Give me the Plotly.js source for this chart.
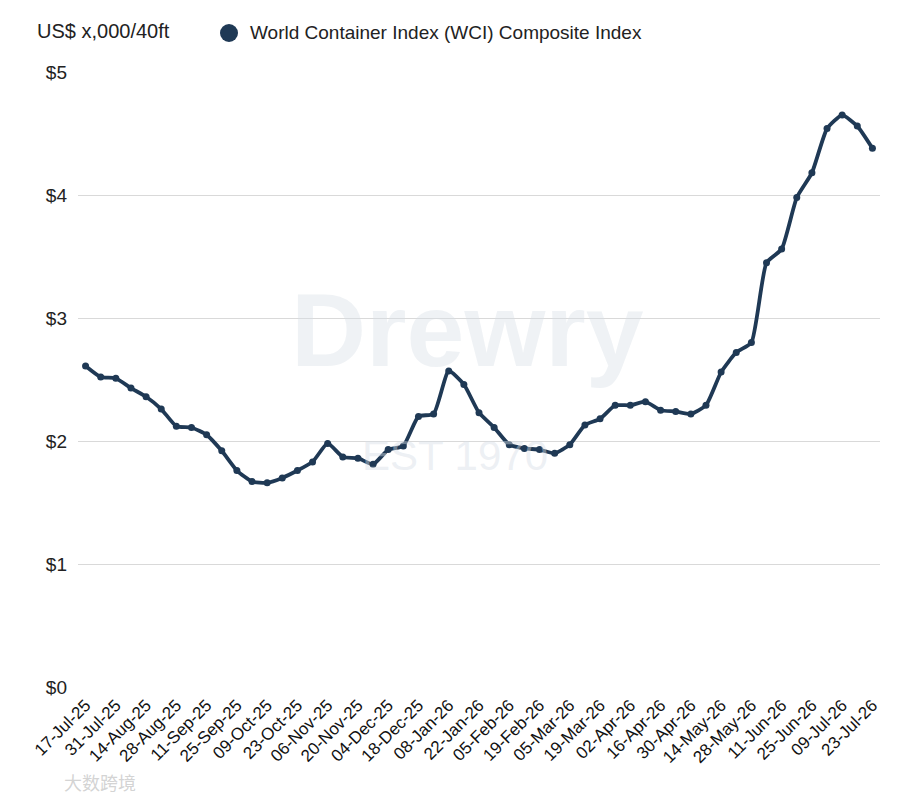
<!DOCTYPE html>
<html>
<head>
<meta charset="utf-8">
<script src="https://cdn.plot.ly/plotly-3.0.1.min.js"></script>
<style>html,body{margin:0;padding:0;background:#fff;}#chart{width:900px;height:797px;}</style>
</head>
<body>
<div id="chart"></div>
<script>
const dates = ["17-Jul-25","24-Jul-25","31-Jul-25","07-Aug-25","14-Aug-25","21-Aug-25","28-Aug-25","04-Sep-25","11-Sep-25","18-Sep-25","25-Sep-25","02-Oct-25","09-Oct-25","16-Oct-25","23-Oct-25","30-Oct-25","06-Nov-25","13-Nov-25","20-Nov-25","27-Nov-25","04-Dec-25","11-Dec-25","18-Dec-25","25-Dec-25","08-Jan-26","15-Jan-26","22-Jan-26","29-Jan-26","05-Feb-26","12-Feb-26","19-Feb-26","26-Feb-26","05-Mar-26","12-Mar-26","19-Mar-26","26-Mar-26","02-Apr-26","09-Apr-26","16-Apr-26","23-Apr-26","30-Apr-26","07-May-26","14-May-26","21-May-26","28-May-26","04-Jun-26","11-Jun-26","18-Jun-26","25-Jun-26","02-Jul-26","09-Jul-26","16-Jul-26","23-Jul-26"];
const wciValues = [2.61,2.52,2.51,2.43,2.36,2.26,2.12,2.11,2.05,1.92,1.76,1.67,1.66,1.70,1.76,1.83,1.98,1.87,1.86,1.81,1.93,1.96,2.20,2.22,2.57,2.46,2.23,2.11,1.97,1.94,1.93,1.90,1.97,2.13,2.18,2.29,2.29,2.32,2.25,2.24,2.22,2.29,2.56,2.72,2.80,3.45,3.56,3.98,4.18,4.54,4.65,4.56,4.38];
const tickLabels = dates.filter((d,i)=>i%2===0);
const yTickVals = [0,1,2,3,4,5];
const yTickText = ["$0","$1","$2","$3","$4","$5"];
const seriesName = "World Container Index (WCI) Composite Index";
const unitLabel = "US$ x,000/40ft";

const navy = "#1f3955";
const trace = {
  x: dates, y: wciValues, type: "scatter", mode: "lines+markers",
  name: seriesName,
  line: {color: navy, width: 3.8, shape: "spline", smoothing: 0.5},
  marker: {color: navy, size: 7},
  showlegend: false,
  cliponaxis: false
};
const layout = {
  width: 900, height: 797,
  margin: {l: 78, r: 20, t: 72, b: 110},
  paper_bgcolor: "#fff", plot_bgcolor: "#fff",
  font: {family: "Liberation Sans, Arial, sans-serif", color: "#222"},
  showlegend: false,
  xaxis: {
    type: "category", range: [-0.5, 52.5],
    tickmode: "array", tickvals: tickLabels, ticktext: tickLabels,
    tickangle: -45, tickfont: {size: 17, color: "#111"}, ticklabelstandoff: 4,
    showgrid: false, zeroline: false, showline: false, ticks: "", fixedrange: true
  },
  yaxis: {
    range: [0, 5], tickvals: yTickVals, ticktext: yTickText,
    tickfont: {size: 19, color: "#222"}, showgrid: true, gridcolor: "#d9d9d9", gridwidth: 1,
    zeroline: false, showline: false, ticks: "", ticklabelstandoff: 10
  },
  shapes: [
    {type: "circle", xref: "paper", yref: "paper", xsizemode: "pixel", ysizemode: "pixel",
     xanchor: (229-78)/802, yanchor: (687-33)/615, x0: -9, x1: 9, y0: -9, y1: 9,
     fillcolor: navy, line: {width: 0}}
  ],
  annotations: [
    {text: unitLabel, xref: "paper", yref: "paper", x: (35-78)/802, y: (687-31)/615, xanchor: "left", yanchor: "middle",
     showarrow: false, font: {size: 20, color: "#222"}},
    {text: seriesName, xref: "paper", yref: "paper", x: (248-78)/802, y: (687-33)/615, xanchor: "left", yanchor: "middle",
     showarrow: false, font: {size: 19, color: "#222"}},
    {text: "<b>Drewry</b>", xref: "paper", yref: "paper", x: 0.486, y: 0.58, xanchor: "center", yanchor: "middle",
     showarrow: false, font: {size: 104, color: "rgba(215,222,230,0.4)", family: "Liberation Sans, Arial"}},
    {text: "EST 1970", xref: "paper", yref: "paper", x: 0.47, y: 0.377, xanchor: "center", yanchor: "middle",
     showarrow: false, font: {size: 42, color: "rgba(215,222,230,0.45)", family: "Liberation Sans, Arial"}},
    {text: "大数跨境", xref: "paper", yref: "paper", x: -0.02, y: -0.155, xanchor: "left", yanchor: "middle",
     showarrow: false, font: {size: 18, color: "rgba(200,200,200,0.8)", family: "Noto Sans CJK SC"}}
  ]
};
Plotly.newPlot("chart", [trace], layout, {displayModeBar: false, staticPlot: true});
</script>
</body>
</html>
